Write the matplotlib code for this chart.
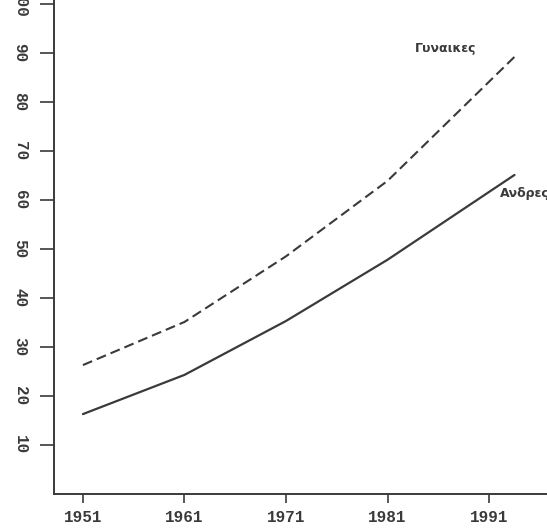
import matplotlib
matplotlib.use("Agg")
import matplotlib.pyplot as plt

# ---- data ----
years = [1951, 1961, 1971, 1981, 1993.5]
women = [26.3, 35.1, 48.5, 63.9, 89.2]
men = [16.3, 24.3, 35.3, 47.8, 65.1]
xticks = [1951, 1961, 1971, 1981, 1991]
yticks = [10, 20, 30, 40, 50, 60, 70, 80, 90, 100]
label_women = "Γυναικες"
label_men = "Ανδρες"

ink = "#3a3a3a"

fig = plt.figure(figsize=(5.47, 5.30), dpi=100)
ax = fig.add_axes([0.0987, 0.068, 0.9013, 0.932])

ax.plot(years, men, color=ink, lw=1.6, solid_capstyle="round")
ax.plot(years, women, color=ink, lw=1.5, dashes=(4.8, 2.4))

ax.set_xlim(1948.15, 1996.7)
ax.set_ylim(0, 100.8)

ax.set_xticks(xticks)
ax.set_xticklabels([str(v) for v in xticks])
ax.set_yticks(yticks)
ax.set_yticklabels([str(v) for v in yticks], rotation=-90, va="center")

tick_font = dict(family="Liberation Mono", weight="bold", size=11.5)
for lab in ax.get_xticklabels() + ax.get_yticklabels():
    lab.set_fontfamily(tick_font["family"])
    lab.set_fontweight(tick_font["weight"])
    lab.set_fontsize(tick_font["size"])
    lab.set_color(ink)

ax.tick_params(axis="y", direction="out", length=10, width=1.2, color=ink, pad=9)
ax.tick_params(axis="x", direction="out", length=6.5, width=1.2, color=ink, pad=5)

for side in ("top", "right"):
    ax.spines[side].set_visible(False)
for side in ("left", "bottom"):
    ax.spines[side].set_color(ink)
    ax.spines[side].set_linewidth(1.4)

ax.text(1986.7, 91.0, label_women, ha="center", va="center", fontsize=9,
        fontweight="bold", color=ink, family="DejaVu Sans")
ax.text(1992.1, 61.4, label_men, ha="left", va="center", fontsize=9,
        fontweight="bold", color=ink, family="DejaVu Sans", clip_on=False)

fig.savefig("out.png", dpi=100)
